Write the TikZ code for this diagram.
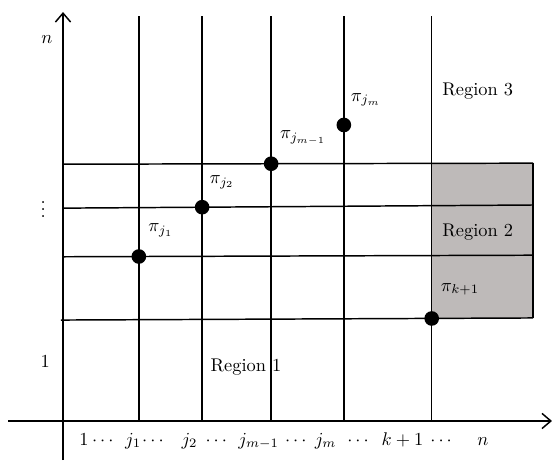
\documentclass[tikz,border=0pt]{standalone}
\usepackage{tikz}
\usetikzlibrary{arrows.meta}
\definecolor{regiongray}{RGB}{190,186,185}

\begin{document}
\begin{tikzpicture}[>={Straight Barb[length=1.7mm,width=2.9mm]}]
\useasboundingbox (-1.205,-0.784) rectangle (9.35,8.05);
% shaded block
\fill[regiongray] (7.05,1.96) -- (8.99,1.97) -- (8.99,4.93) -- (7.05,4.93) -- cycle;
\draw[thick] (8.99,1.97) -- (8.99,4.93);
% axes
\draw[thick,->] (0,-0.75) -- (0,7.82);
\draw[thick,->] (-1.05,0) -- (9.35,0);
% grid
\foreach \xj in {1.45,2.66,3.98,5.37,7.05}
  \draw[thick] (\xj,0) -- (\xj,7.74);
\draw[thick] (0,4.91) -- (8.99,4.93);
\draw[thick] (0,4.07) -- (8.99,4.13);
\draw[thick] (0,3.14) -- (8.99,3.17);
\draw[thick] (-0.04,1.93) -- (8.99,1.97);
% points
\foreach \pt in {(1.45,3.145),(2.66,4.088),(3.98,4.919),(5.37,5.66),(7.05,1.96)}
  \fill \pt circle (0.14);
\node at (1.87,3.65) {$\pi_{j_1}$};
\node at (3.04,4.57) {$\pi_{j_2}$};
\node at (4.59,5.41) {$\pi_{j_{m-1}}$};
\node at (5.79,6.14) {$\pi_{j_m}$};
\node at (7.59,2.52) {$\pi_{k+1}$};
% regions
\node at (7.93,6.31) {Region 3};
\node at (7.93,3.61) {Region 2};
\node at (3.50,1.03) {Region 1};
% axis labels
\node at (-0.31,7.30) {$n$};
\node at (-0.38,4.15) {$\vdots$};
\node at (-0.34,1.13) {$1$};
\foreach \xl/\tick in {0.40/1, 0.76/\cdots, 1.34/j_1, 1.72/\cdots, 2.42/j_2,
    2.93/\cdots, 3.74/j_{m-1}, 4.45/\cdots, 5.02/j_m, 5.64/\cdots,
    6.49/k+1, 7.23/\cdots, 8.03/n}
  \node[anchor=base] at (\xl,-0.46) {$\tick$};
\end{tikzpicture}
\end{document}
